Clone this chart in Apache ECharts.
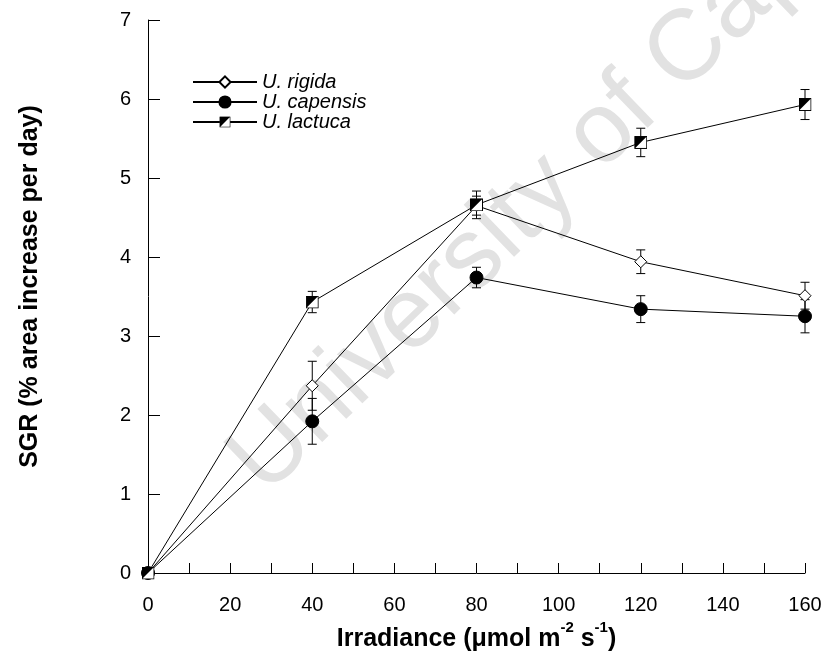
<!DOCTYPE html>
<html>
<head>
<meta charset="utf-8">
<script src="https://cdn.jsdelivr.net/npm/echarts@6/dist/echarts.min.js"></script>
<style>
  html, body { margin: 0; padding: 0; background: #fff; }
  #chart { width: 826px; height: 668px; }
</style>
</head>
<body>
<div id="chart"></div>
<script>
// irradiance levels (umol m-2 s-1)
var irradiance = [0, 40, 80, 120, 160];

// SGR means and standard errors
var rigida      = [0, 2.37, 4.65, 3.94, 3.51];
var rigidaErr   = [0, 0.31, 0.12, 0.15, 0.17];
var capensis    = [0, 1.92, 3.74, 3.34, 3.25];
var capensisErr = [0, 0.29, 0.13, 0.17, 0.21];
var lactuca     = [0, 3.43, 4.66, 5.45, 5.93];
var lactucaErr  = [0, 0.135, 0.175, 0.18, 0.19];

var seriesNames = ['U. rigida', 'U. capensis', 'U. lactuca'];

var FONT = 'Liberation Sans, Arial, sans-serif';

// half black / half white square for U. lactuca
var halfSquare = 'image://data:image/svg+xml;charset=utf-8,' + encodeURIComponent(
	"<svg xmlns='http://www.w3.org/2000/svg' width='26' height='26' viewBox='0 0 13 13'>" +
	"<rect x='0.5' y='0.5' width='12' height='12' fill='white' stroke='black' stroke-width='1'/>" +
	"<path d='M0.5 0.5 H12.5 L0.5 12.5 Z' fill='black'/>" +
	"</svg>");

function pairs(ys) {
	return irradiance.map(function(x, i) { return [x, ys[i]]; });
}

function errData(ys, es) {
	return irradiance.map(function(x, i) { return [x, ys[i], es[i]]; });
}

function renderErr(params, api) {
	var x = api.value(0), y = api.value(1), e = api.value(2);
	if (!e) return null;
	var hi = api.coord([x, y + e]);
	var lo = api.coord([x, y - e]);
	var w = 4.5;
	var st = { stroke: '#000', lineWidth: 1 };
	return {
		type: 'group',
		children: [
			{ type: 'line', shape: { x1: hi[0], y1: hi[1], x2: lo[0], y2: lo[1] }, style: st },
			{ type: 'line', shape: { x1: hi[0] - w, y1: hi[1], x2: hi[0] + w, y2: hi[1] }, style: st },
			{ type: 'line', shape: { x1: lo[0] - w, y1: lo[1], x2: lo[0] + w, y2: lo[1] }, style: st }
		]
	};
}

function errSeries(ys, es) {
	return {
		type: 'custom',
		renderItem: renderErr,
		data: errData(ys, es),
		z: 1,
		silent: true
	};
}

function lineSeries(name, ys, symbol, fill, size) {
	return {
		name: name,
		type: 'line',
		data: pairs(ys),
		symbol: symbol,
		symbolSize: size,
		showAllSymbol: true,
		lineStyle: { color: '#000', width: 1 },
		itemStyle: { color: fill, borderColor: '#000', borderWidth: 1, opacity: 1 },
		emphasis: { disabled: true },
		z: 2
	};
}

var chart = echarts.init(document.getElementById('chart'));

chart.setOption({
	animation: false,
	backgroundColor: '#fff',
	grid: { left: 148, right: 21, top: 20, bottom: 95, outerBoundsMode: 'none' },
	graphic: [{
		type: 'text',
		x: 281,
		y: 513,
		rotation: 44 * Math.PI / 180,
		z: -10,
		silent: true,
		style: {
			text: 'University of Cape Town',
			font: '100px ' + FONT,
			fill: '#e2e2e2',
			textAlign: 'left',
			textVerticalAlign: 'bottom'
		}
	}],
	legend: {
		data: seriesNames,
		orient: 'vertical',
		left: 192,
		top: 72,
		padding: 0,
		itemWidth: 64,
		itemHeight: 14,
		itemGap: 0,
		selectedMode: false,
		textStyle: { fontFamily: FONT, fontSize: 20, fontStyle: 'italic', color: '#000' }
	},
	xAxis: {
		type: 'value',
		min: 0,
		max: 160,
		interval: 10,
		name: '{n|Irradiance (\u03bcmol m}{sup|-2}{n| s}{sup|-1}{n|)}',
		nameLocation: 'middle',
		nameGap: 46,
		nameTextStyle: {
			fontFamily: FONT, fontSize: 25, fontWeight: 'bold', color: '#000',
			rich: {
				n: { fontFamily: FONT, fontSize: 25, fontWeight: 'bold', color: '#000', lineHeight: 32, verticalAlign: 'bottom' },
				sup: { fontFamily: FONT, fontSize: 15, fontWeight: 'bold', color: '#000', lineHeight: 15, verticalAlign: 'top' }
			}
		},
		axisLine: { lineStyle: { color: '#000', width: 1 } },
		axisTick: { inside: true, length: 10, lineStyle: { color: '#000' } },
		axisLabel: {
			margin: 22,
			fontFamily: FONT, fontSize: 20, color: '#000',
			formatter: function(v) { return v % 20 === 0 ? String(v) : ''; }
		},
		splitLine: { show: false }
	},
	yAxis: {
		type: 'value',
		min: 0,
		max: 7,
		interval: 1,
		name: 'SGR (% area increase per day)',
		nameLocation: 'middle',
		nameGap: 105,
		nameTextStyle: { fontFamily: FONT, fontSize: 25, fontWeight: 'bold', color: '#000', padding: [0, 0, 0, 20] },
		axisLine: { show: true, lineStyle: { color: '#000', width: 1 } },
		axisTick: { show: true, inside: true, length: 12, lineStyle: { color: '#000' } },
		axisLabel: { margin: 17, fontFamily: FONT, fontSize: 20, color: '#000' },
		splitLine: { show: false }
	},
	series: [
		errSeries(rigida, rigidaErr),
		errSeries(capensis, capensisErr),
		errSeries(lactuca, lactucaErr),
		lineSeries('U. rigida', rigida, 'diamond', '#fff', 12),
		lineSeries('U. capensis', capensis, 'circle', '#000', 13),
		lineSeries('U. lactuca', lactuca, halfSquare, '#fff', 13)
	]
});
</script>
</body>
</html>
